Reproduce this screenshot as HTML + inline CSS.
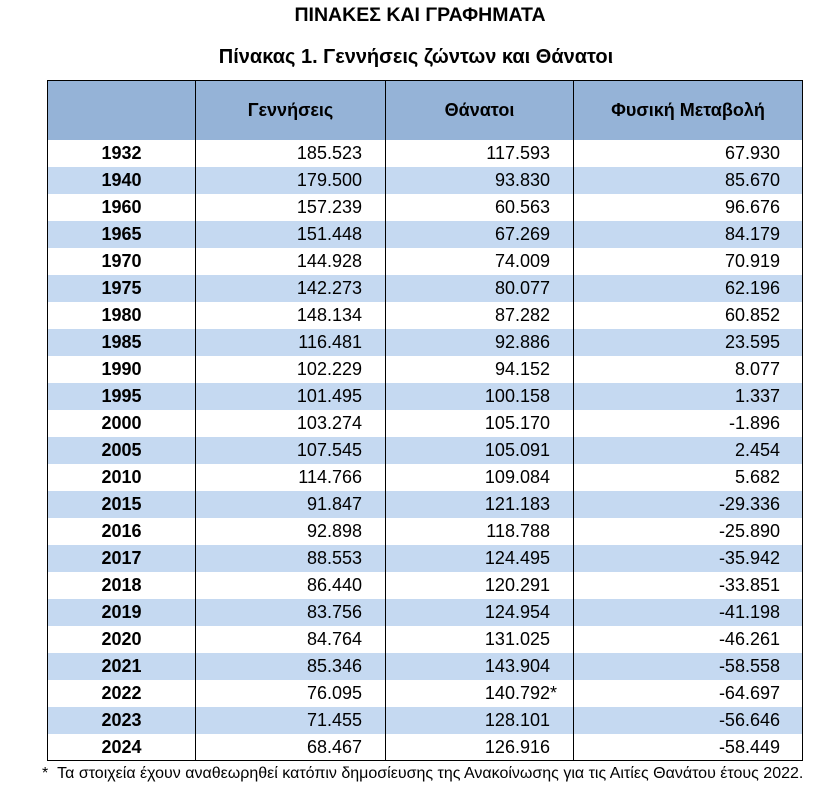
<!DOCTYPE html>
<html><head><meta charset="utf-8"><style>
body{margin:0;width:832px;height:795px;background:#fff;font-family:"Liberation Sans",sans-serif;color:#000;position:relative;overflow:hidden}
.t1{position:absolute;top:4px;left:4px;width:832px;text-align:center;font-weight:bold;font-size:19.5px}
.t2{position:absolute;top:46px;left:0;width:832px;text-align:center;font-weight:bold;font-size:20px}
table{position:absolute;left:47px;top:80px;border-collapse:collapse;border:1.5px solid #000}
td{height:27px;padding:0;font-size:18px;line-height:20px;border-left:1px solid #000;border-right:1px solid #000;box-sizing:border-box}
tr.h td{height:59px;background:#95b3d7;font-weight:bold;text-align:center;font-size:18px}
tr.b td{background:#c5d9f1}
td.y{width:148px;text-align:center;font-weight:bold}
td.a{width:190px;text-align:right;padding-right:23px}
td.c{width:188px;text-align:right;padding-right:23px}
td.d{width:229px;text-align:right;padding-right:22px}
.s{position:relative}
.s i{font-style:normal;position:absolute;left:100%}
.f{position:absolute;top:765px;left:42px;font-size:16px;white-space:nowrap}
</style></head><body>
<div class="t1">ΠΙΝΑΚΕΣ ΚΑΙ ΓΡΑΦΗΜΑΤΑ</div>
<div class="t2">Πίνακας 1. Γεννήσεις ζώντων και Θάνατοι</div>
<table>
<tr class="h"><td class="y"></td><td class="a" style="text-align:center;padding:0">Γεννήσεις</td><td class="c" style="text-align:center;padding:0">Θάνατοι</td><td class="d" style="text-align:center;padding:0">Φυσική Μεταβολή</td></tr>
<tr><td class="y">1932</td><td class="a">185.523</td><td class="c">117.593</td><td class="d">67.930</td></tr>
<tr class="b"><td class="y">1940</td><td class="a">179.500</td><td class="c">93.830</td><td class="d">85.670</td></tr>
<tr><td class="y">1960</td><td class="a">157.239</td><td class="c">60.563</td><td class="d">96.676</td></tr>
<tr class="b"><td class="y">1965</td><td class="a">151.448</td><td class="c">67.269</td><td class="d">84.179</td></tr>
<tr><td class="y">1970</td><td class="a">144.928</td><td class="c">74.009</td><td class="d">70.919</td></tr>
<tr class="b"><td class="y">1975</td><td class="a">142.273</td><td class="c">80.077</td><td class="d">62.196</td></tr>
<tr><td class="y">1980</td><td class="a">148.134</td><td class="c">87.282</td><td class="d">60.852</td></tr>
<tr class="b"><td class="y">1985</td><td class="a">116.481</td><td class="c">92.886</td><td class="d">23.595</td></tr>
<tr><td class="y">1990</td><td class="a">102.229</td><td class="c">94.152</td><td class="d">8.077</td></tr>
<tr class="b"><td class="y">1995</td><td class="a">101.495</td><td class="c">100.158</td><td class="d">1.337</td></tr>
<tr><td class="y">2000</td><td class="a">103.274</td><td class="c">105.170</td><td class="d">-1.896</td></tr>
<tr class="b"><td class="y">2005</td><td class="a">107.545</td><td class="c">105.091</td><td class="d">2.454</td></tr>
<tr><td class="y">2010</td><td class="a">114.766</td><td class="c">109.084</td><td class="d">5.682</td></tr>
<tr class="b"><td class="y">2015</td><td class="a">91.847</td><td class="c">121.183</td><td class="d">-29.336</td></tr>
<tr><td class="y">2016</td><td class="a">92.898</td><td class="c">118.788</td><td class="d">-25.890</td></tr>
<tr class="b"><td class="y">2017</td><td class="a">88.553</td><td class="c">124.495</td><td class="d">-35.942</td></tr>
<tr><td class="y">2018</td><td class="a">86.440</td><td class="c">120.291</td><td class="d">-33.851</td></tr>
<tr class="b"><td class="y">2019</td><td class="a">83.756</td><td class="c">124.954</td><td class="d">-41.198</td></tr>
<tr><td class="y">2020</td><td class="a">84.764</td><td class="c">131.025</td><td class="d">-46.261</td></tr>
<tr class="b"><td class="y">2021</td><td class="a">85.346</td><td class="c">143.904</td><td class="d">-58.558</td></tr>
<tr><td class="y">2022</td><td class="a">76.095</td><td class="c"><span class="s">140.792<i>*</i></span></td><td class="d">-64.697</td></tr>
<tr class="b"><td class="y">2023</td><td class="a">71.455</td><td class="c">128.101</td><td class="d">-56.646</td></tr>
<tr><td class="y">2024</td><td class="a">68.467</td><td class="c">126.916</td><td class="d">-58.449</td></tr>
</table>
<div class="f">* &nbsp;Τα στοιχεία έχουν αναθεωρηθεί κατόπιν δημοσίευσης της Ανακοίνωσης για τις Αιτίες Θανάτου έτους 2022.</div>
</body></html>
